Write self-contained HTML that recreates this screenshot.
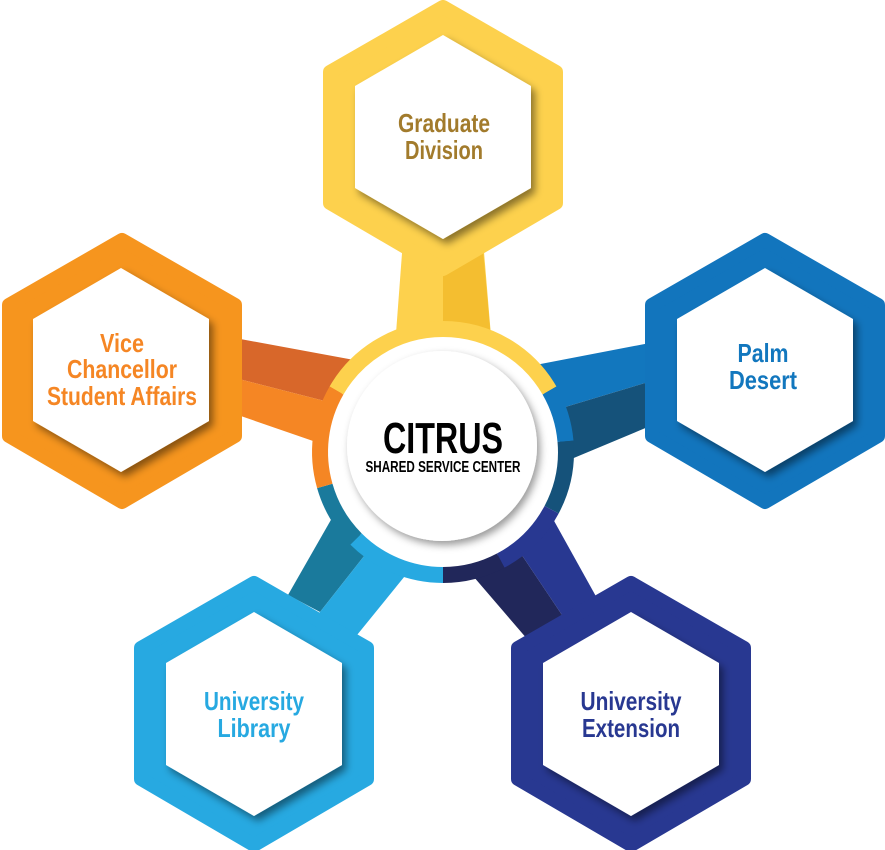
<!DOCTYPE html>
<html><head><meta charset="utf-8"><style>
html,body{margin:0;padding:0;background:#fff;}
svg{display:block;}
text{font-family:"Liberation Sans Narrow","Liberation Sans",sans-serif;font-weight:bold;text-anchor:middle;}
</style></head><body>
<svg width="885" height="850" viewBox="0 0 885 850" xmlns="http://www.w3.org/2000/svg">
<defs>
<filter id="sh" x="-20%" y="-20%" width="140%" height="140%">
<feDropShadow dx="4" dy="5" stdDeviation="4" flood-color="#000" flood-opacity="0.45"/>
</filter>
<filter id="sh2" x="-20%" y="-20%" width="140%" height="140%">
<feDropShadow dx="3" dy="4" stdDeviation="4" flood-color="#000" flood-opacity="0.4"/>
</filter>
</defs>

<!-- arms -->
<polygon points="403,240 483,240 493,360 394,360" fill="#fdd14d"/>
<polygon points="443,272 483,250 493,360 443,360" fill="#f4be30"/>

<polygon points="235,338 365,362 352,408 235,378" fill="#d8672a"/>
<polygon points="235,378 352,408 345,452 235,414" fill="#f58624"/>

<polygon points="655,342 525,367 532,417 655,380" fill="#1277be"/>
<polygon points="655,380 532,417 545,470 655,424" fill="#15527a"/>

<polygon points="348,490 394,518 320,612 288,595" fill="#1a7a9c"/>
<polygon points="394,518 430,545 353,640 310,625 320,612" fill="#27a9e1"/>

<polygon points="455,555 495,515 562,615 528,640" fill="#21275a"/>
<polygon points="495,515 538,492 598,600 562,615" fill="#283891"/>

<!-- hexagons -->
<g stroke-linejoin="round" stroke-width="14">
<polygon points="443,7 556,72 556,203 443,269 330,203 330,72" fill="#fdd14d" stroke="#fdd14d"/>
<polygon points="122,240 235,305 235,436 122,502 9,436 9,305" fill="#f6951e" stroke="#f6951e"/>
<polygon points="765,240 878,305 878,436 765,502 652,436 652,305" fill="#1275bd" stroke="#1275bd"/>
<polygon points="254,583 367,648 367,779 254,845 141,779 141,648" fill="#27a9e1" stroke="#27a9e1"/>
<polygon points="631,583 744,648 744,779 631,845 518,779 518,648" fill="#283891" stroke="#283891"/>
</g>
<g fill="#fff" filter="url(#sh)">
<polygon points="443,35 531,86 531,188 443,239 355,188 355,86"/>
<polygon points="121,268 209,319 209,421 121,472 33,421 33,319"/>
<polygon points="765,268 853,319 853,421 765,472 677,421 677,319"/>
<polygon points="254,612 342,663 342,765 254,816 166,765 166,663"/>
<polygon points="631,612 719,663 719,765 631,816 543,765 543,663"/>
</g>

<!-- ring -->
<circle cx="443" cy="452" r="117" fill="#fff"/>
<g fill="none" stroke-width="16">
<path d="M336.5,390.5 A123,123 0 0 1 549.5,390.5" stroke="#fdd14d"/>
<path d="M549.5,390.5 A123,123 0 0 1 565.5,441.3" stroke="#1277be"/>
<path d="M565.5,441.3 A123,123 0 0 1 551.6,509.7" stroke="#15527a"/>
<path d="M551.6,509.7 A123,123 0 0 1 500.7,560.6" stroke="#283891"/>
<path d="M500.7,560.6 A123,123 0 0 1 443,575" stroke="#21275a"/>
<path d="M443,575 A123,123 0 0 1 356,539" stroke="#27a9e1"/>
<path d="M356,539 A123,123 0 0 1 324.8,485.9" stroke="#1a7a9c"/>
<path d="M324.8,485.9 A123,123 0 0 1 336.5,390.5" stroke="#f58624"/>
</g>
<circle cx="442" cy="446" r="95" fill="#fff" filter="url(#sh2)"/>

<!-- text -->
<text x="443" y="453" font-size="44" fill="#000" textLength="120" lengthAdjust="spacingAndGlyphs">CITRUS</text>
<text x="443" y="472" font-size="16" fill="#000" textLength="155" lengthAdjust="spacingAndGlyphs">SHARED SERVICE CENTER</text>

<g font-size="26">
<text x="444" y="132" fill="#a27b2c" textLength="92" lengthAdjust="spacingAndGlyphs">Graduate</text>
<text x="444" y="159" fill="#a27b2c" textLength="78" lengthAdjust="spacingAndGlyphs">Division</text>

<text x="122" y="352" fill="#f58624" textLength="44" lengthAdjust="spacingAndGlyphs">Vice</text>
<text x="122" y="378" fill="#f58624" textLength="110" lengthAdjust="spacingAndGlyphs">Chancellor</text>
<text x="122" y="405" fill="#f58624" textLength="150" lengthAdjust="spacingAndGlyphs">Student Affairs</text>

<text x="763" y="362" fill="#1277be" textLength="51" lengthAdjust="spacingAndGlyphs">Palm</text>
<text x="763" y="389" fill="#1277be" textLength="68" lengthAdjust="spacingAndGlyphs">Desert</text>

<text x="254" y="710" fill="#27a9e1" textLength="100" lengthAdjust="spacingAndGlyphs">University</text>
<text x="254" y="737" fill="#27a9e1" textLength="73" lengthAdjust="spacingAndGlyphs">Library</text>

<text x="631" y="710" fill="#283891" textLength="101" lengthAdjust="spacingAndGlyphs">University</text>
<text x="631" y="737" fill="#283891" textLength="98" lengthAdjust="spacingAndGlyphs">Extension</text>
</g>
</svg>
</body></html>
